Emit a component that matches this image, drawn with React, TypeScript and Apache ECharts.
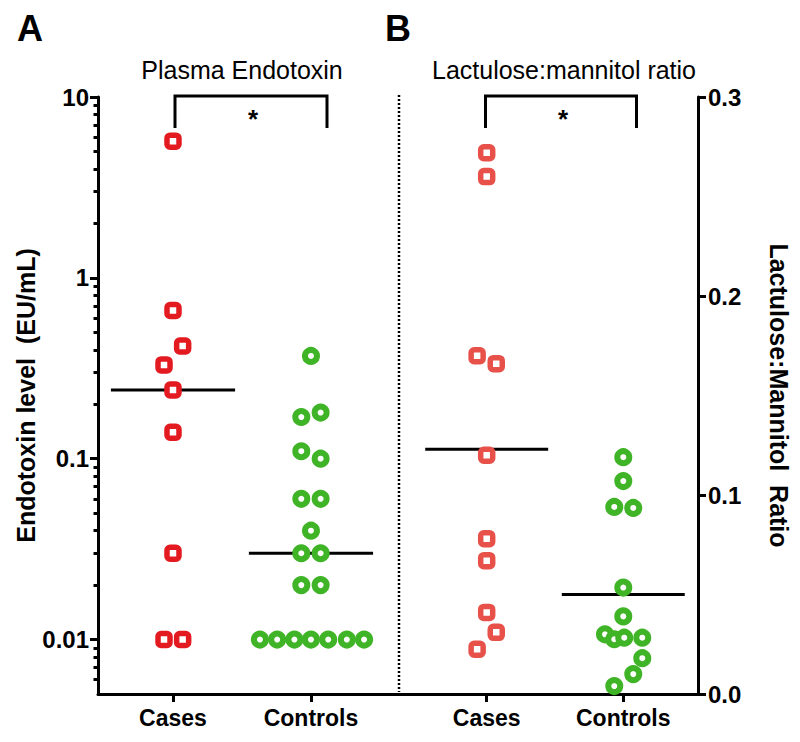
import React, { useEffect, useRef } from "react";
import * as echarts from "echarts";

const categories = ["Cases", "Controls"];
const categoryPositions = [1, 2];

// Panel A: plasma endotoxin (EU/mL)
const endotoxinCases = [5.7, 0.66, 0.42, 0.33, 0.24, 0.14, 0.03, 0.01, 0.01];
const endotoxinCasesJitter = [0, 0, 0.07, -0.065, 0, 0, 0, -0.065, 0.07];
const endotoxinControls = [
  0.37, 0.17, 0.18, 0.11, 0.1, 0.06, 0.06, 0.04, 0.03, 0.03, 0.02, 0.02,
  0.01, 0.01, 0.01, 0.01, 0.01, 0.01, 0.01,
];
const endotoxinControlsJitter = [
  0, -0.07, 0.07, -0.07, 0.07, -0.07, 0.07, 0, -0.07, 0.07, -0.07, 0.07,
  -0.37, -0.245, -0.12, 0, 0.125, 0.26, 0.385,
];
const endotoxinMedians = [0.24, 0.03];
const endotoxinTicks = [0.01, 0.1, 1, 10];
const endotoxinMinorTicks = [
  0.006, 0.007, 0.008, 0.009, 0.02, 0.03, 0.04, 0.05, 0.06, 0.07, 0.08, 0.09,
  0.2, 0.3, 0.4, 0.5, 0.6, 0.7, 0.8, 0.9, 2, 3, 4, 5, 6, 7, 8, 9,
];

// Panel B: lactulose:mannitol ratio
const lmCases = [0.272, 0.26, 0.17, 0.166, 0.12, 0.078, 0.067, 0.041, 0.031, 0.0225];
const lmCasesJitter = [0, 0, -0.07, 0.07, 0, 0, 0, 0, 0.07, -0.07];
const lmControls = [
  0.119, 0.107, 0.094, 0.0935, 0.0535, 0.039, 0.03, 0.0275, 0.0283, 0.0283,
  0.018, 0.01, 0.004,
];
const lmControlsJitter = [
  0, 0, -0.066, 0.073, 0, 0, -0.134, -0.066, 0.007, 0.139, 0.139, 0.073, -0.066,
];
const lmMedians = [0.123, 0.05];
const lmTicks = [0, 0.1, 0.2, 0.3];

const FONT = "Liberation Sans, Arial, Helvetica, sans-serif";
const RED_A = "#E31A20";
const RED_B = "#E8514A";
const GREEN = "#3FB427";
const MEDIAN_HALF = 0.45;

function pts(vals: number[], jit: number[], center: number) {
  return vals.map((v, i) => [center + jit[i], v]);
}

function medianLine(center: number, v: number) {
  return [
    [center - MEDIAN_HALF, v],
    [center + MEDIAN_HALF, v],
  ];
}

export default function App() {
  const ref = useRef<HTMLDivElement>(null);
  useEffect(() => {
    if (!ref.current) return;
    const chart = echarts.init(ref.current, null, { renderer: "svg" });
    const axisLineStyle = { color: "#000", width: 3 };
    const xLabel = {
      customValues: categoryPositions,
      formatter: (v: number) => categories[categoryPositions.indexOf(Math.round(v))] || "",
      fontFamily: FONT,
      fontWeight: "bold",
      fontSize: 23,
      color: "#000",
      margin: 12,
    };
    const xAxisCommon = {
      type: "value",
      axisLine: { show: true, lineStyle: axisLineStyle },
      axisTick: { show: true, customValues: categoryPositions, length: 8, lineStyle: axisLineStyle },
      axisLabel: xLabel,
      splitLine: { show: false },
    };
    const medianStyle = { color: "#000", width: 3 };
    const nameStyle = { fontFamily: FONT, fontWeight: "bold", fontSize: 25, color: "#000" };
    const tickLabel = { fontFamily: FONT, fontWeight: "bold", fontSize: 24, color: "#000" };
    const option: any = {
      animation: false,
      backgroundColor: "#fff",
      grid: [
        { left: 98, top: 97, width: 301, height: 597 },
        { left: 399, top: 97, width: 299, height: 597 },
      ],
      xAxis: [
        { ...xAxisCommon, gridIndex: 0, min: 0.4565, max: 2.638 },
        { ...xAxisCommon, gridIndex: 1, min: 0.358, max: 2.547 },
      ],
      yAxis: [
        {
          type: "log",
          logBase: 10,
          gridIndex: 0,
          position: "left",
          min: 0.005,
          max: 10,
          axisLine: { show: true, lineStyle: axisLineStyle },
          axisTick: { show: true, customValues: endotoxinTicks, length: 8, lineStyle: axisLineStyle },
          axisLabel: {
            ...tickLabel,
            customValues: endotoxinTicks,
            formatter: (v: number) => String(v),
            margin: 9,
          },
          splitLine: { show: false },
          name: "Endotoxin level  (EU/mL)",
          nameLocation: "middle",
          nameGap: 60,
          nameTextStyle: nameStyle,
        },
        {
          type: "log",
          logBase: 10,
          gridIndex: 0,
          position: "left",
          min: 0.005,
          max: 10,
          axisLine: { show: false },
          axisTick: { show: true, customValues: endotoxinMinorTicks, length: 4.5, lineStyle: axisLineStyle },
          axisLabel: { show: false },
          splitLine: { show: false },
        },
        {
          type: "value",
          gridIndex: 1,
          position: "right",
          min: 0,
          max: 0.3,
          interval: 0.1,
          axisLine: { show: true, lineStyle: axisLineStyle },
          axisTick: { show: true, customValues: lmTicks, length: 8, lineStyle: axisLineStyle },
          axisLabel: {
            ...tickLabel,
            customValues: lmTicks,
            formatter: (v: number) => v.toFixed(1),
            margin: 10,
          },
          splitLine: { show: false },
          name: "Lactulose:Mannitol  Ratio",
          nameLocation: "middle",
          nameRotate: -90,
          nameGap: 68,
          nameTextStyle: nameStyle,
        },
      ],
      series: [
        {
          type: "line",
          xAxisIndex: 0,
          yAxisIndex: 0,
          data: medianLine(categoryPositions[0], endotoxinMedians[0]),
          showSymbol: false,
          lineStyle: medianStyle,
          z: 1,
        },
        {
          type: "line",
          xAxisIndex: 0,
          yAxisIndex: 0,
          data: medianLine(categoryPositions[1], endotoxinMedians[1]),
          showSymbol: false,
          lineStyle: medianStyle,
          z: 1,
        },
        {
          type: "line",
          xAxisIndex: 1,
          yAxisIndex: 2,
          data: medianLine(categoryPositions[0], lmMedians[0]),
          showSymbol: false,
          lineStyle: medianStyle,
          z: 1,
        },
        {
          type: "line",
          xAxisIndex: 1,
          yAxisIndex: 2,
          data: medianLine(categoryPositions[1], lmMedians[1]),
          showSymbol: false,
          lineStyle: medianStyle,
          z: 1,
        },
        {
          type: "scatter",
          xAxisIndex: 0,
          yAxisIndex: 0,
          data: pts(endotoxinCases, endotoxinCasesJitter, categoryPositions[0]),
          symbol: "roundRect",
          symbolSize: 12,
          itemStyle: { color: "#fff", borderColor: RED_A, borderWidth: 5.5, opacity: 1 },
          z: 2,
        },
        {
          type: "scatter",
          xAxisIndex: 0,
          yAxisIndex: 0,
          data: pts(endotoxinControls, endotoxinControlsJitter, categoryPositions[1]),
          symbol: "circle",
          symbolSize: 12,
          itemStyle: { color: "#fff", borderColor: GREEN, borderWidth: 6, opacity: 1 },
          z: 2,
        },
        {
          type: "scatter",
          xAxisIndex: 1,
          yAxisIndex: 2,
          data: pts(lmCases, lmCasesJitter, categoryPositions[0]),
          symbol: "roundRect",
          symbolSize: 12,
          itemStyle: { color: "#fff", borderColor: RED_B, borderWidth: 5.5, opacity: 1 },
          z: 2,
        },
        {
          type: "scatter",
          xAxisIndex: 1,
          yAxisIndex: 2,
          data: pts(lmControls, lmControlsJitter, categoryPositions[1]),
          symbol: "circle",
          symbolSize: 12,
          itemStyle: { color: "#fff", borderColor: GREEN, borderWidth: 6, opacity: 1 },
          z: 2,
        },
      ],
      graphic: [
        { type: "text", left: 17, top: 10, style: { text: "A", font: `bold 36px ${FONT}`, fill: "#000" } },
        { type: "text", left: 385, top: 10, style: { text: "B", font: `bold 36px ${FONT}`, fill: "#000" } },
        {
          type: "text",
          x: 242,
          y: 70,
          style: { text: "Plasma Endotoxin", font: `25px ${FONT}`, fill: "#000", align: "center", verticalAlign: "middle" },
        },
        {
          type: "text",
          x: 564,
          y: 70,
          style: { text: "Lactulose:mannitol ratio", font: `25px ${FONT}`, fill: "#000", align: "center", verticalAlign: "middle" },
        },
        {
          type: "polyline",
          shape: { points: [[175, 128], [175, 96], [327, 96], [327, 128]] },
          style: { stroke: "#000", lineWidth: 3, fill: null },
        },
        {
          type: "polyline",
          shape: { points: [[485.5, 128], [485.5, 96], [636.5, 96], [636.5, 128]] },
          style: { stroke: "#000", lineWidth: 3, fill: null },
        },
        {
          type: "text",
          x: 253,
          y: 119,
          style: { text: "*", font: `bold 26px ${FONT}`, fill: "#000", align: "center", verticalAlign: "middle" },
        },
        {
          type: "text",
          x: 563,
          y: 119,
          style: { text: "*", font: `bold 26px ${FONT}`, fill: "#000", align: "center", verticalAlign: "middle" },
        },
        {
          type: "line",
          shape: { x1: 399, y1: 95, x2: 399, y2: 692 },
          style: { stroke: "#000", lineWidth: 2.5, lineDash: [2, 2] },
        },
      ],
    };
    chart.setOption(option);
    return () => chart.dispose();
  }, []);
  return (
    <div
      ref={ref}
      style={{ position: "fixed", left: 0, top: 0, width: 800, height: 742, background: "#fff" }}
    />
  );
}
